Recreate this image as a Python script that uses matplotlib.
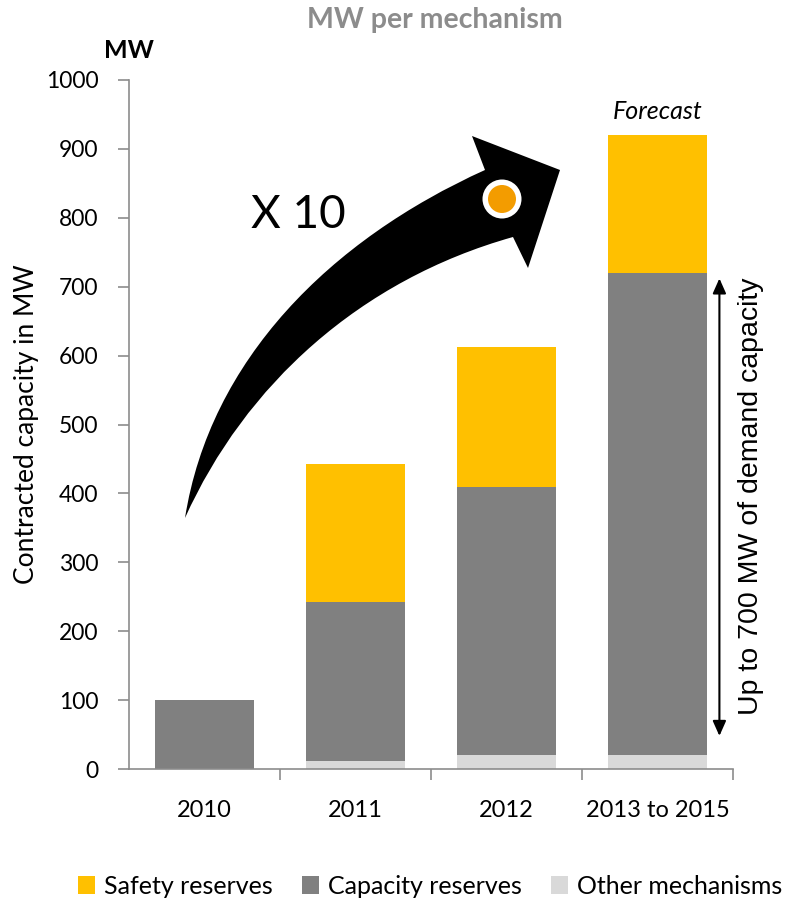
import matplotlib
matplotlib.use("Agg")
import matplotlib.pyplot as plt
import matplotlib.patches as patches
import numpy as np
from matplotlib.path import Path

plt.rcParams['font.family'] = ['Lato', 'DejaVu Sans']

categories = ['2010', '2011', '2012', '2013 to 2015']
other_mw = [0, 12, 20, 20]
capacity_mw = [100, 230, 390, 700]
safety_mw = [0, 200, 202, 200]

series_names = ['Safety reserves', 'Capacity reserves', 'Other mechanisms']
series_colors = ['#FFC000', '#808080', '#D9D9D9']
y_ticks = [0, 100, 200, 300, 400, 500, 600, 700, 800, 900, 1000]

AXIS_GREY = '#8C8C8C'

fig = plt.figure(figsize=(7.9, 9.01), dpi=100)
ax = fig.add_axes([129 / 790, 1 - 769 / 901, (733 - 129) / 790, (769 - 80) / 901])

x = np.arange(len(categories))
width = 0.66
other = np.array(other_mw)
capacity = np.array(capacity_mw)
safety = np.array(safety_mw)

ax.bar(x, other, width, color=series_colors[2], linewidth=0)
ax.bar(x, capacity, width, bottom=other, color=series_colors[1], linewidth=0)
ax.bar(x, safety, width, bottom=other + capacity, color=series_colors[0], linewidth=0)

ax.set_xlim(-0.5, len(categories) - 0.5)
ax.set_ylim(0, 1000)
ax.set_yticks(y_ticks)
ax.set_xticks(x)
ax.set_xticklabels(categories)
ax.set_xticks(np.arange(len(categories)) + 0.5, minor=True)
ax.tick_params(axis='x', which='major', length=0, pad=22, labelsize=17)
ax.tick_params(axis='x', which='minor', length=8, color=AXIS_GREY, width=1.2)
ax.tick_params(axis='y', length=8, color=AXIS_GREY, width=1.2, pad=14, labelsize=16.5)

for side in ['top', 'right']:
    ax.spines[side].set_visible(False)
for side in ['left', 'bottom']:
    ax.spines[side].set_color(AXIS_GREY)
    ax.spines[side].set_linewidth(1.2)

ax.set_ylabel('Contracted capacity in MW', fontsize=19, labelpad=5)

fig.text(435 / 790, 1 - 20 / 901, 'MW per mechanism', ha='center', va='center',
         fontsize=20.5, fontweight='bold', color='#8C8C8C')
fig.text(129 / 790, 1 - 50 / 901, 'MW', ha='center', va='center',
         fontsize=18, fontweight='bold', color='black')
ax.text(3, 938, 'Forecast', ha='center', va='bottom', fontsize=18, style='italic')

# double arrow for the demand capacity
ax.annotate('', xy=(3.41, 48), xytext=(3.41, 712),
            arrowprops=dict(arrowstyle='<|-|>,head_length=0.9,head_width=0.4',
                            color='black', lw=1.5, shrinkA=0, shrinkB=0),
            annotation_clip=False)
ax.text(3.62, 396, 'Up to 700 MW of demand capacity', rotation=90, ha='center', va='center',
        fontsize=20.5, family=['Liberation Sans', 'DejaVu Sans'], clip_on=False)

# overlay in pixel units for the curved growth arrow
ov = fig.add_axes([0, 0, 1, 1])
ov.set_xlim(0, 790)
ov.set_ylim(901, 0)
ov.axis('off')

verts = [(185, 518), (210, 360), (330, 240), (485, 170),
         (472, 136), (560, 170), (528, 268), (513, 237),
         (360, 280), (245, 385), (185, 518), (185, 518)]
codes = [Path.MOVETO, Path.CURVE4, Path.CURVE4, Path.CURVE4,
         Path.LINETO, Path.LINETO, Path.LINETO, Path.LINETO,
         Path.CURVE4, Path.CURVE4, Path.CURVE4, Path.CLOSEPOLY]
ov.add_patch(patches.PathPatch(Path(verts, codes), facecolor='black', edgecolor='none'))
ov.add_patch(patches.Circle((502, 199), 19.5, facecolor='white', edgecolor='none'))
ov.add_patch(patches.Circle((502, 199), 14, facecolor='#F39C00', edgecolor='none'))
ov.text(298, 215, 'X 10', ha='center', va='center', fontsize=33)

handles = [patches.Patch(facecolor=c, edgecolor='none') for c in series_colors]
fig.legend(handles, series_names, loc='center', bbox_to_anchor=(430 / 790, 1 - 886 / 901),
           ncol=3, frameon=False, fontsize=18, handlelength=0.7, handleheight=0.7,
           handletextpad=0.35, columnspacing=1.15, borderaxespad=0, borderpad=0)

fig.savefig('out.png', dpi=100)
